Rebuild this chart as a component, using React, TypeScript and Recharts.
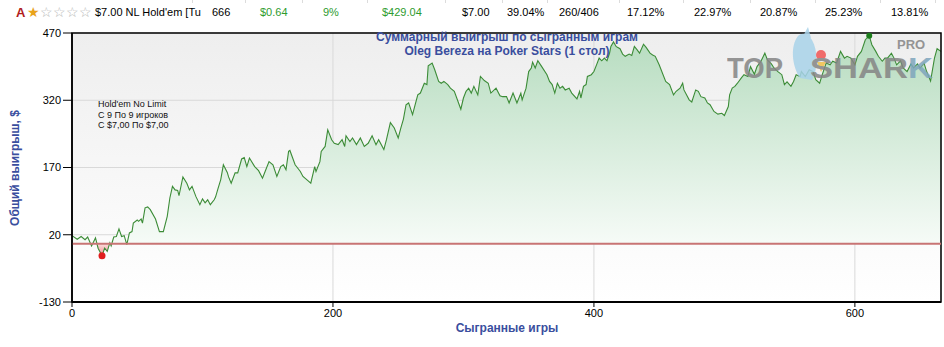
import React from "react";
import {
  ComposedChart,
  Area,
  XAxis,
  YAxis,
  CartesianGrid,
  ReferenceLine,
  ReferenceArea,
  ReferenceDot,
} from "recharts";

// сыгранные игры (номер раздачи) и суммарный выигрыш, $
const games = [
  0, 4, 7, 10, 12, 15, 18, 20, 23, 25, 27, 29, 30, 32, 34, 36, 38, 40, 42, 44, 46, 47, 50, 51, 53, 54, 56, 58, 60, 64,
  67, 70, 73, 75, 77, 79, 81, 82, 85, 88, 90, 92, 95, 98, 100, 102, 104, 106, 109, 110, 112, 114, 116, 119, 120, 122,
  125, 127, 130, 132, 134, 136, 140, 143, 146, 148, 151, 154, 157, 160, 162, 164, 166, 167, 171, 175, 177, 181, 183,
  186, 187, 190, 191, 194, 196, 199, 201, 204, 207, 209, 210, 213, 215, 218, 221, 224, 227, 230, 233, 235, 239, 241,
  244, 247, 250, 252, 254, 256, 258, 261, 263, 265, 267, 270, 272, 273, 276, 278, 281, 283, 285, 288, 290, 293, 298,
  300, 302, 304, 306, 308, 311, 313, 316, 319, 321, 325, 328, 330, 333, 335, 338, 341, 344, 345, 348, 350, 352, 353,
  355, 357, 360, 364, 366, 368, 370, 372, 374, 376, 378, 381, 383, 387, 389, 390, 392, 394, 395, 398, 400, 402, 404,
  406, 408, 410, 412, 413, 415, 417, 418, 420, 422, 424, 427, 429, 431, 433, 435, 438, 440, 443, 445, 447, 450, 455,
  458, 461, 463, 466, 468, 469, 473, 475, 478, 480, 482, 485, 487, 489, 492, 495, 498, 500, 503, 504, 506, 508, 510,
  513, 515, 518, 520, 523, 525, 528, 531, 533, 536, 538, 541, 544, 546, 548, 551, 553, 555, 558, 559, 562, 565, 568,
  570, 573, 575, 578, 581, 583, 586, 589, 592, 594, 597, 600, 602, 605, 608, 611, 613, 616, 618, 621, 623, 625, 628,
  630, 632, 635, 637, 640, 643, 645, 648, 650, 653, 655, 658, 661, 663, 666,
];
const winnings = [
  18, 10, 16, 9, 15, -5, 13, -10, -27, -10, -17, 2, -5, 15, 16, 33, 16, 18, -2, 24, 27, 46, 53, 50, 55, 46, 80, 82, 76, 55,
  27, 27, 61, 102, 128, 120, 119, 107, 149, 135, 120, 128, 105, 87, 100, 91, 98, 87, 98, 104, 124, 143, 176, 159, 149, 135,
  158, 158, 189, 192, 172, 191, 172, 163, 146, 161, 183, 176, 150, 172, 176, 165, 206, 208, 176, 161, 150, 140, 135,
  172, 161, 183, 206, 217, 254, 232, 224, 221, 232, 217, 241, 228, 236, 221, 236, 217, 224, 241, 221, 232, 210, 232,
  270, 258, 236, 258, 278, 310, 314, 288, 310, 332, 336, 358, 355, 397, 403, 388, 362, 358, 362, 355, 347, 340, 300,
  325, 340, 347, 336, 351, 332, 373, 364, 358, 336, 347, 330, 328, 328, 314, 336, 314, 336, 321, 347, 384, 392, 405,
  392, 408, 395, 377, 362, 355, 336, 358, 347, 351, 343, 347, 336, 323, 340, 325, 351, 355, 373, 377, 384, 399, 414,
  408, 414, 408, 425, 440, 450, 440, 438, 435, 423, 418, 423, 420, 440, 433, 425, 445, 438, 425, 421, 418, 399, 362,
  355, 332, 340, 347, 358, 343, 321, 316, 343, 340, 328, 325, 314, 310, 295, 289, 291, 286, 306, 332, 347, 351, 358,
  370, 377, 373, 395, 378, 395, 407, 425, 410, 401, 392, 384, 377, 355, 361, 351, 362, 377, 373, 384, 373, 388, 384,
  366, 358, 377, 403, 399, 407, 403, 429, 414, 418, 414, 399, 418, 429, 455, 464, 444, 429, 418, 407, 414, 414, 425,
  414, 399, 408, 392, 384, 401, 392, 401, 392, 403, 384, 363, 414, 435, 429.04,
];

const xTicks = [0, 200, 400, 600];
const yTicks = [-130, 20, 170, 320, 470];

const infoLines = ["Hold'em No Limit", "С 9 По 9 игроков", "С $7,00 По $7,00"];

// строка таблицы над графиком
const rowCells = [
  { text: "$7.00 NL Hold'em [Tu", x: 95, green: false },
  { text: "666", x: 212, green: false },
  { text: "$0.64", x: 260, green: true },
  { text: "9%", x: 323, green: true },
  { text: "$429.04", x: 382, green: true },
  { text: "$7.00", x: 462, green: false },
  { text: "39.04%", x: 507, green: false },
  { text: "260/406", x: 559, green: false },
  { text: "17.12%", x: 627, green: false },
  { text: "22.97%", x: 694, green: false },
  { text: "20.87%", x: 760, green: false },
  { text: "25.23%", x: 825, green: false },
  { text: "13.81%", x: 891, green: false },
];
const colSeparators = [192, 245, 302, 367, 445, 502, 547, 619, 683, 750, 815, 880, 935];

const data = games.map((g, i) => ({ game: g, win: winnings[i] }));

const maxWin = Math.max(...winnings);
const minWin = Math.min(...winnings);
const maxIdx = winnings.indexOf(maxWin);
const minIdx = winnings.indexOf(minWin);
const zeroOff = maxWin / (maxWin - minWin);

const FONT = "'Liberation Sans', Arial, sans-serif";
const NARROW = "'Liberation Sans Narrow', 'Liberation Sans', Arial, sans-serif";
const BLUE = "#3a4e9e";
const GREEN_TXT = "#2e9b2e";

function Logo() {
  return (
    <svg
      width={944}
      height={347}
      style={{ position: "absolute", left: 0, top: 0, pointerEvents: "none", opacity: 0.85 }}
    >
      <text
        x={727}
        y={78}
        fontSize={29}
        fontWeight="bold"
        fontFamily={FONT}
        fill="#858585"
        textLength={56}
        lengthAdjust="spacingAndGlyphs"
      >
        TOP
      </text>
      {/* акула */}
      <path
        d="M798 36 C 790 46, 792 66, 800 78 L 812 80 C 818 70, 818 50, 812 40 C 808 33, 802 32, 798 36 Z"
        fill="#a9d3ea"
      />
      <path d="M803 36 L 808 27 L 811 38 Z" fill="#a9d3ea" />
      <circle cx={821} cy={55} r={5} fill="#f05555" />
      <path d="M817 62 L 826 62 L 821 72 Z" fill="#f2c04a" />
      <text
        x={810}
        y={78}
        fontSize={29}
        fontWeight="bold"
        fontFamily={FONT}
        fill="#858585"
        textLength={123}
        lengthAdjust="spacingAndGlyphs"
      >
        SHAR<tspan fill="#7fa6bd">K</tspan>
      </text>
      <text x={897} y={49} fontSize={13} fontWeight="bold" fontFamily={FONT} fill="#858585">
        PRO
      </text>
    </svg>
  );
}

export default function App() {
  return (
    <div
      style={{
        position: "absolute",
        left: 0,
        top: 0,
        width: 944,
        height: 347,
        background: "#fff",
        fontFamily: FONT,
        overflow: "hidden",
      }}
    >
      <ComposedChart
        width={944}
        height={347}
        data={data}
        margin={{ top: 33, right: 3, bottom: 15, left: 12 }}
      >
        <defs>
          <linearGradient id="plotBg" x1="0" y1="0" x2="0" y2="1">
            <stop offset="0%" stopColor="#eeeeee" />
            <stop offset="100%" stopColor="#ffffff" />
          </linearGradient>
          <linearGradient id="areaFill" x1="0" y1="0" x2="0" y2="1">
            <stop offset="0%" stopColor="#b6dcbf" />
            <stop offset={`${zeroOff * 100}%`} stopColor="#f6fbf7" />
            <stop offset={`${zeroOff * 100}%`} stopColor="#fbdede" />
            <stop offset="100%" stopColor="#f08c8c" />
          </linearGradient>
        </defs>
        <CartesianGrid stroke="#d9d9d9" fill="url(#plotBg)" fillOpacity={1} />
        <XAxis
          type="number"
          dataKey="game"
          domain={[0, 666]}
          ticks={xTicks}
          interval={0}
          height={30}
          tickSize={5}
          tickMargin={2}
          tick={{ fontSize: 11, fill: "#000", fontFamily: NARROW }}
          tickLine={{ stroke: "#000" }}
          axisLine={{ stroke: "#000", strokeWidth: 2 }}
        />
        <YAxis
          type="number"
          domain={[-130, 470]}
          ticks={yTicks}
          interval={0}
          width={60}
          tickSize={9}
          tickMargin={2}
          allowDataOverflow
          tick={{ fontSize: 11, fill: "#000", fontFamily: NARROW }}
          tickLine={{ stroke: "#000" }}
          axisLine={{ stroke: "#000", strokeWidth: 1.5 }}
        />
        <Area
          type="linear"
          dataKey="win"
          stroke="#3c8c37"
          strokeWidth={1.1}
          fill="url(#areaFill)"
          fillOpacity={1}
          dot={false}
          activeDot={false}
          isAnimationActive={false}
        />
        <ReferenceLine y={0} stroke="#c87474" strokeWidth={2} />
        <ReferenceArea
          x1={0}
          x2={666}
          y1={-130}
          y2={470}
          fill="none"
          stroke="#000"
          strokeWidth={1.5}
        />
        <ReferenceDot x={games[minIdx]} y={minWin} r={3.5} fill="#e01e1e" stroke="none" />
        <ReferenceDot x={games[maxIdx]} y={maxWin} r={3} fill="#1b7d1b" stroke="none" />
      </ComposedChart>

      <Logo />

      {/* строка таблицы */}
      <div style={{ position: "absolute", left: 0, top: 0, width: 944, height: 25, fontSize: 11 }}>
        {colSeparators.map((x) => (
          <div
            key={x}
            style={{ position: "absolute", left: x, top: 0, width: 1, height: 3, background: "#dcdcdc" }}
          />
        ))}
        <span style={{ position: "absolute", left: 16, top: 5, fontSize: 13, fontWeight: "bold", color: "#b01c1c" }}>
          A
        </span>
        <span style={{ position: "absolute", left: 27, top: 4, fontSize: 14, letterSpacing: 0 }}>
          <span style={{ color: "#e9a31b" }}>★</span>
          <span style={{ color: "#b5b5b5" }}>☆☆☆☆</span>
        </span>
        {rowCells.map((c) => (
          <span
            key={c.text}
            style={{
              position: "absolute",
              left: c.x,
              top: 6,
              whiteSpace: "nowrap",
              color: c.green ? GREEN_TXT : "#000",
            }}
          >
            {c.text}
          </span>
        ))}
      </div>

      {/* заголовок */}
      <div
        style={{
          position: "absolute",
          left: 307,
          width: 400,
          top: 31,
          textAlign: "center",
          color: BLUE,
          fontSize: 12,
          fontWeight: "bold",
          lineHeight: "13.5px",
        }}
      >
        <div>Суммарный выигрыш по сыгранным играм</div>
        <div>Oleg Bereza на Poker Stars (1 стол)</div>
      </div>

      {/* фильтры */}
      <div style={{ position: "absolute", left: 98, top: 99, fontSize: 9, lineHeight: "10.5px", color: "#111" }}>
        {infoLines.map((l) => (
          <div key={l}>{l}</div>
        ))}
      </div>

      {/* подписи осей */}
      <div
        style={{
          position: "absolute",
          left: 15,
          top: 168,
          transform: "translate(-50%, -50%) rotate(-90deg)",
          whiteSpace: "nowrap",
          color: BLUE,
          fontSize: 12,
          fontWeight: "bold",
        }}
      >
        Общий выигрыш, $
      </div>
      <div
        style={{
          position: "absolute",
          left: 407,
          width: 200,
          top: 321,
          textAlign: "center",
          color: BLUE,
          fontSize: 12,
          fontWeight: "bold",
        }}
      >
        Сыгранные игры
      </div>
    </div>
  );
}
